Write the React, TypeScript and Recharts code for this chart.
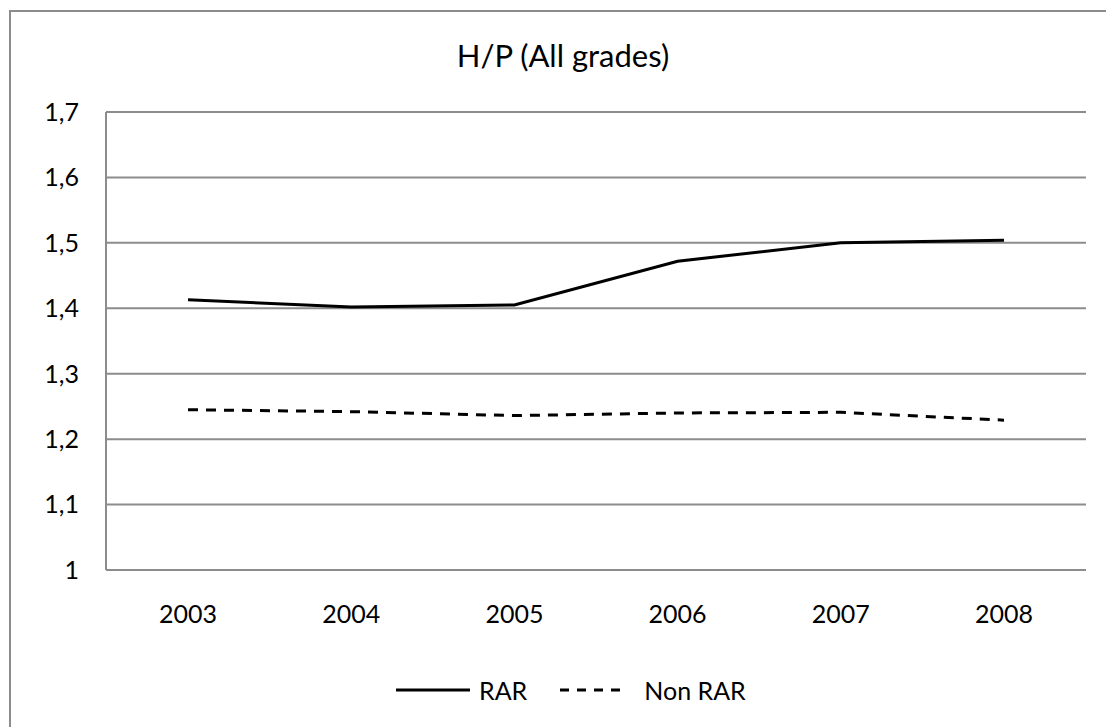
import { LineChart, Line, XAxis, YAxis, CartesianGrid } from 'recharts'

const years = ['2003', '2004', '2005', '2006', '2007', '2008']
const rar = [1.413, 1.402, 1.405, 1.472, 1.5, 1.504]
const nonRar = [1.245, 1.242, 1.236, 1.24, 1.241, 1.229]
const yTicks = [1, 1.1, 1.2, 1.3, 1.4, 1.5, 1.6, 1.7]

const data = years.map((year, i) => ({ year, rar: rar[i], nonRar: nonRar[i] }))

const font = 'Lato, "Open Sans", sans-serif'
const grid = '#8c8c8c'

export default function App() {
  return (
    <div style={{ position: 'absolute', left: 0, top: 0, width: 1106, height: 727, overflow: 'hidden', background: '#fff', fontFamily: font }}>
      <div
        style={{
          position: 'absolute',
          left: 9,
          top: 10,
          width: 1200,
          height: 800,
          borderLeft: `2px solid ${grid}`,
          borderTop: `2px solid ${grid}`,
        }}
      />
      <div style={{ position: 'absolute', left: 0, top: 36, width: 1126, textAlign: 'center', fontSize: 31, color: '#000' }}>
        H/P (All grades)
      </div>
      <LineChart
        width={1106}
        height={727}
        data={data}
        margin={{ top: 112, right: 20, left: 0, bottom: 0 }}
        style={{ position: 'absolute', left: 0, top: 0, fontFamily: font }}
      >
        <CartesianGrid vertical={false} stroke={grid} strokeWidth={2} />
        <XAxis
          dataKey="year"
          height={157}
          padding={{ left: 82, right: 82 }}
          tickLine={false}
          tickSize={0}
          tickMargin={35}
          axisLine={{ stroke: grid, strokeWidth: 2 }}
          tick={{ fill: '#000', fontSize: 25 }}
        />
        <YAxis
          width={106}
          domain={[1, 1.7]}
          ticks={yTicks}
          tickLine={false}
          tickSize={0}
          tickMargin={27}
          axisLine={{ stroke: grid, strokeWidth: 2 }}
          tick={{ fill: '#000', fontSize: 25 }}
          tickFormatter={(v: number) => String(v).replace('.', ',')}
        />
        <Line type="linear" dataKey="rar" stroke="#000" strokeWidth={3} dot={false} isAnimationActive={false} />
        <Line
          type="linear"
          dataKey="nonRar"
          stroke="#000"
          strokeWidth={3}
          strokeDasharray="10 8"
          dot={false}
          isAnimationActive={false}
        />
      </LineChart>
      <div style={{ position: 'absolute', left: 396, top: 675, display: 'flex', alignItems: 'center', fontSize: 25, color: '#000' }}>
        <svg width={76} height={10}>
          <line x1={0} y1={5} x2={74} y2={5} stroke="#000" strokeWidth={3} />
        </svg>
        <span style={{ marginLeft: 7 }}>RAR</span>
        <svg width={70} height={10} style={{ marginLeft: 31 }}>
          <line x1={2} y1={5} x2={70} y2={5} stroke="#000" strokeWidth={3} strokeDasharray="9 8" />
        </svg>
        <span style={{ marginLeft: 16 }}>Non RAR</span>
      </div>
    </div>
  )
}
